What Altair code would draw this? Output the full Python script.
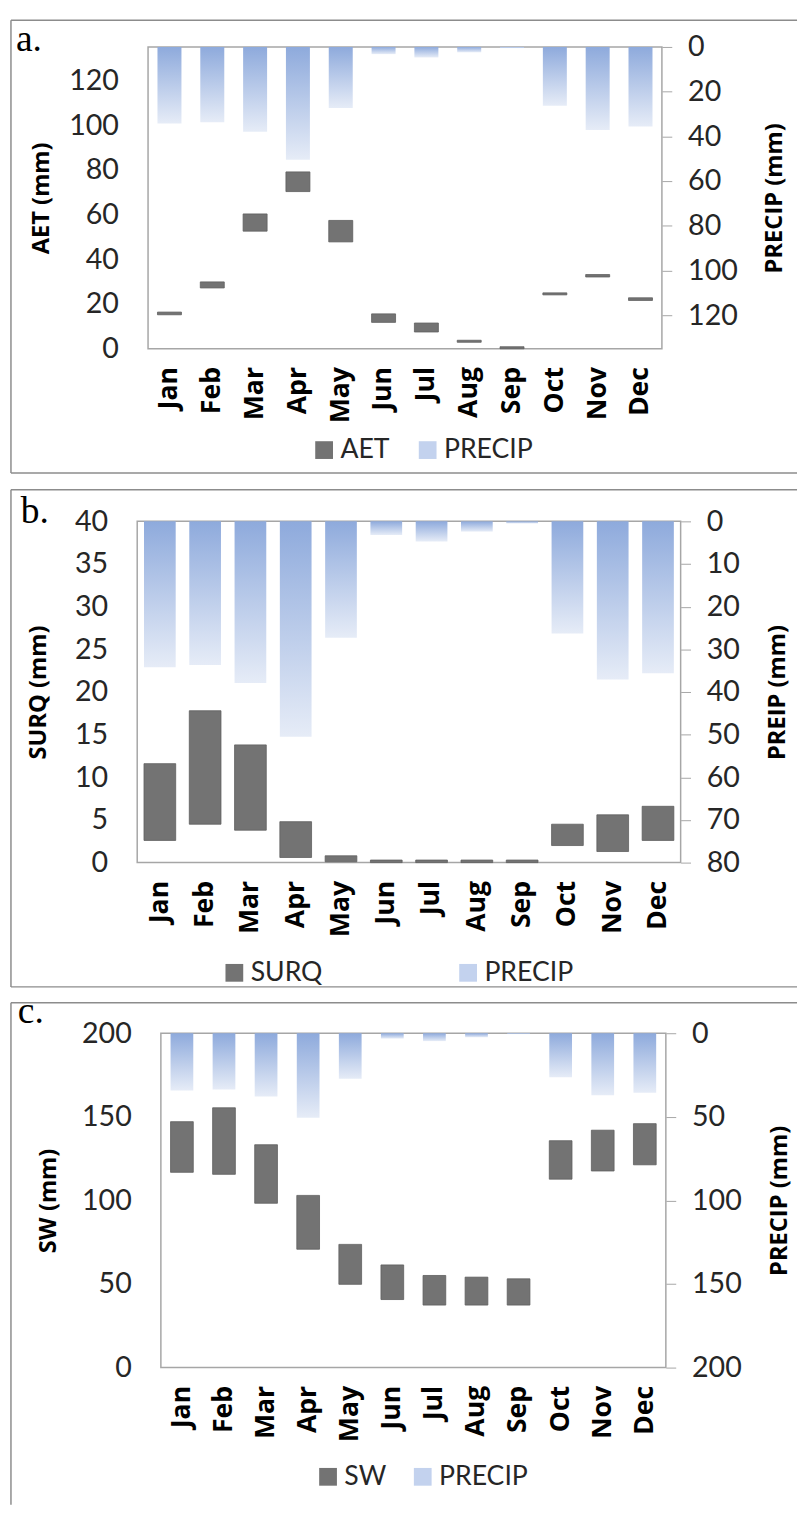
import altair as alt
import pandas as pd

months = ["Jan", "Feb", "Mar", "Apr", "May", "Jun", "Jul", "Aug", "Sep", "Oct", "Nov", "Dec"]
precip = [34.2, 33.7, 37.9, 50.5, 27.3, 3.2, 4.7, 2.4, 0.5, 26.3, 37.1, 35.6]

aet_low = [15.2, 27.2, 52.6, 70.3, 47.8, 11.8, 7.5, 2.9, 0.0, 24.1, 32.1, 21.6]
aet_high = [16.4, 29.9, 60.3, 79.1, 57.4, 15.6, 11.5, 3.8, 0.9, 25.0, 33.2, 22.8]

surq_low = [2.6, 4.5, 3.8, 0.6, 0.1, 0.0, 0.0, 0.0, 0.0, 2.0, 1.3, 2.6]
surq_high = [11.6, 17.8, 13.8, 4.8, 0.8, 0.3, 0.3, 0.3, 0.3, 4.5, 5.6, 6.6]

sw_low = [116.8, 115.6, 98.3, 70.8, 49.8, 40.7, 37.4, 37.4, 37.4, 112.7, 117.6, 121.3]
sw_high = [147.1, 155.4, 133.3, 103.0, 73.7, 61.4, 55.1, 54.1, 53.1, 135.7, 142.0, 145.9]

ticks_a_left = [0, 20, 40, 60, 80, 100, 120]
ticks_a_right = [0, 20, 40, 60, 80, 100, 120]
ticks_b_left = [0, 5, 10, 15, 20, 25, 30, 35, 40]
ticks_b_right = [0, 10, 20, 30, 40, 50, 60, 70, 80]
ticks_c_left = [0, 50, 100, 150, 200]
ticks_c_right = [0, 50, 100, 150, 200]

GRID = "#a6a6a6"
FRAME = "#8c8c8c"
DARK = "#737373"
LABEL = "#262626"

grad = alt.LinearGradient(
    gradient="linear",
    stops=[alt.GradientStop(offset=0, color="#8eaadc"),
           alt.GradientStop(offset=1, color="#e6ecf7")],
    x1=0, x2=0, y1=0, y2=1,
)

one = pd.DataFrame({"k": [0]})


def spacer():
    return alt.Chart(one).mark_rule(strokeOpacity=0, strokeWidth=0.1).encode(
        x=alt.value(0), y=alt.value(0), y2=alt.value(0.5)
    ).properties(width=0.5, height=0.5, view=alt.ViewConfig(strokeOpacity=0))


def panel(letter, name, low, high, left_title, left_dom, left_ticks,
          right_title, right_dom, right_ticks, w, h, pad, frame, letter_pos,
          legend_pos, col_pad, ltx, rtx, bottom_edge=True):
    df = pd.DataFrame({"month": months, "precip": precip, "low": low,
                       "high": high, "series": [name] * 12})
    base = alt.Chart(df)
    xenc = alt.X(
        "month:N", sort=months,
        scale=alt.Scale(paddingInner=pad, paddingOuter=pad / 2),
        axis=alt.Axis(title=None, labelAngle=270, ticks=False, domain=False,
                      labelPadding=18, labelFont="Open Sans",
                      labelFontWeight="bold", labelFontSize=27,
                      labelColor="#000000"),
    )
    prec = base.mark_bar(color=grad).encode(
        x=xenc,
        y=alt.Y("precip:Q",
                scale=alt.Scale(domain=right_dom, reverse=True, nice=False),
                axis=alt.Axis(orient="right", values=right_ticks, grid=False,
                              domain=False, ticks=True, tickSize=10,
                              tickColor=GRID, labelPadding=16,
                              labelFont="Lato", labelFontSize=29,
                              labelColor=LABEL, title=right_title,
                              titleX=rtx, titleY=h / 2, titleAngle=270,
                              titleAlign="center", titleBaseline="middle",
                              titleFont="Open Sans", titleFontWeight="bold",
                              titleFontSize=24, titleColor="#000000")),
    )
    dark = base.mark_bar(stroke="#5e5e5e", strokeWidth=0.8).encode(
        x=xenc,
        y=alt.Y("low:Q",
                scale=alt.Scale(domain=left_dom, nice=False),
                axis=alt.Axis(orient="left", values=left_ticks, grid=False,
                              domain=False, ticks=False, labelPadding=30,
                              labelFont="Lato", labelFontSize=29,
                              labelColor=LABEL, title=left_title,
                              titleX=ltx, titleY=h / 2, titleAngle=270,
                              titleAlign="center", titleBaseline="middle",
                              titleFont="Open Sans", titleFontWeight="bold",
                              titleFontSize=24, titleColor="#000000")),
        y2="high:Q",
        color=alt.Color("series:N",
                        scale=alt.Scale(domain=[name, "PRECIP"],
                                        range=[DARK, "#c3d2ee"]),
                        legend=alt.Legend(orient="none", legendX=legend_pos[0],
                                          legendY=legend_pos[1],
                                          direction="horizontal", columns=2,
                                          title=None, symbolType="square",
                                          symbolSize=324, symbolStrokeWidth=0,
                                          labelFont="Lato", labelFontSize=27,
                                          labelColor=LABEL, labelOffset=3,
                                          columnPadding=col_pad)),
    )
    fl, ft, fr, fb = frame
    ones = alt.Chart(one)
    rules = [
        ones.mark_rule(color=FRAME, strokeWidth=1.5).encode(
            x=alt.value(fl), x2=alt.value(fr), y=alt.value(ft)),
        ones.mark_rule(color=FRAME, strokeWidth=1.5).encode(
            x=alt.value(fl), y=alt.value(ft), y2=alt.value(fb)),
    ]
    if bottom_edge:
        rules.append(ones.mark_rule(color=FRAME, strokeWidth=1.5).encode(
            x=alt.value(fl), x2=alt.value(fr), y=alt.value(fb)))
    txt = ones.mark_text(text=letter, font="Liberation Serif", fontSize=38,
                         align="left", baseline="alphabetic",
                         color="#000000").encode(
        x=alt.value(letter_pos[0]), y=alt.value(letter_pos[1]))
    layered = alt.layer(*rules, prec, dark, txt).resolve_scale(
        y="independent").properties(width=w, height=h)
    return alt.hconcat(spacer(), layered, spacing=0).resolve_scale(
        color="independent")


pa = panel("a.", "AET", aet_low, aet_high, "AET (mm)", [0, 135], ticks_a_left,
           "PRECIP (mm)", [0, 135], ticks_a_right, 521, 306, 0.44,
           (-139, -27, 658, 432), (-134, 4), (165, 395), 25, -108, 114)
pb = panel("b.", "SURQ", surq_low, surq_high, "SURQ (mm)", [0, 40],
           ticks_b_left, "PREIP (mm)", [0, 80], ticks_b_right, 551, 346, 0.3,
           (-128, -32, 669, 472), (-118, 2), (85, 444), 134, -100, 98)
pc = panel("c.", "SW", sw_low, sw_high, "SW (mm)", [0, 200], ticks_c_left,
           "PRECIP (mm)", [0, 200], ticks_c_right, 512, 339, 0.46,
           (-152, -31, 645, 478), (-145, -10), (156, 436), 23, -114, 115,
           bottom_edge=False)

bc = alt.vconcat(pb, pc, spacing=4).resolve_scale(
    y="independent", x="independent", color="independent")

chart = alt.vconcat(pa, bc, spacing=13).resolve_scale(
    y="independent", x="independent", color="independent"
).resolve_legend(color="independent").properties(padding=0).configure_view(
    stroke=GRID, strokeWidth=1.5
)

chart.save("out.html", embed_options={"renderer": "svg", "actions": False})
